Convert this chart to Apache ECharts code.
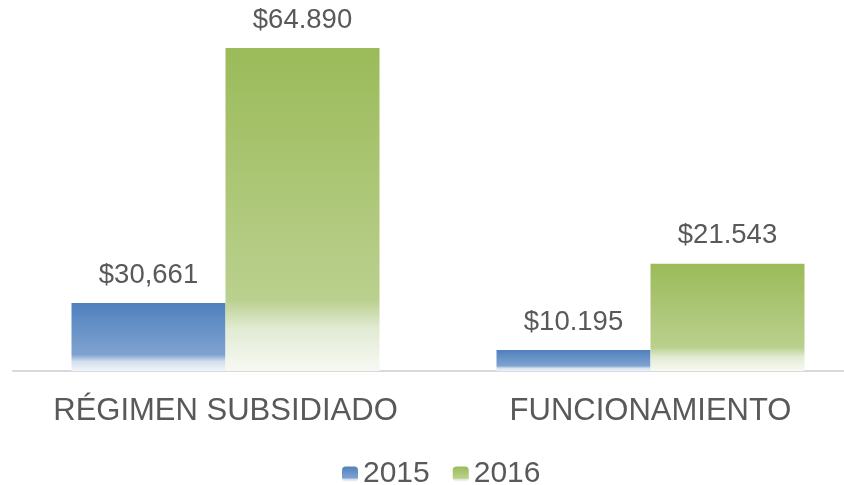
<!DOCTYPE html>
<html>
<head>
<meta charset="utf-8">
<script src="https://cdn.jsdelivr.net/npm/echarts@6/dist/echarts.min.js"></script>
<style>
  html, body { margin: 0; padding: 0; background: #fff; }
  #main { width: 844px; height: 485px; }
</style>
</head>
<body>
<div id="main"></div>
<script>
// datos
var categories = ["RÉGIMEN SUBSIDIADO", "FUNCIONAMIENTO"];
var seriesNames = ["2015", "2016"];
// alturas de barra (2015 no esta a la misma escala que su etiqueta en el original)
var values2015 = [13660, 4220];
var values2016 = [64890, 21543];
var labels2015 = ["$30,661", "$10.195"];
var labels2016 = ["$64.890", "$21.543"];

var textColor = "#595959";

function grad(stops) {
  return new echarts.graphic.LinearGradient(0, 0, 0, 1, stops);
}
var blueFill = grad([
  { offset: 0, color: "#4F81BD" },
  { offset: 0.76, color: "#7FA3D0" },
  { offset: 0.86, color: "#D3DFEE" },
  { offset: 1, color: "#F0F4FA" }
]);
var greenFill = grad([
  { offset: 0, color: "#9BBB59" },
  { offset: 0.78, color: "#BAD08E" },
  { offset: 0.87, color: "#E2EBD4" },
  { offset: 1, color: "#F7F9F3" }
]);

var chart = echarts.init(document.getElementById("main"));
var option = {
  backgroundColor: "#fff",
  animation: false,
  textStyle: { fontFamily: "Liberation Sans, Arial, sans-serif" },
  grid: { left: 13, width: 850, top: 48, height: 323, outerBoundsMode: "none", containLabel: false },
  legend: {
    top: 454,
    left: 337,
    itemWidth: 16,
    itemHeight: 15,
    itemGap: 23,
    textStyle: { fontSize: 30, color: textColor },
    data: seriesNames
  },
  xAxis: {
    type: "category",
    data: categories,
    axisLine: { lineStyle: { color: "#D9D9D9", width: 2 } },
    axisTick: { show: false },
    axisLabel: { fontSize: 31, color: textColor, margin: 25, interval: 0 }
  },
  yAxis: {
    type: "value",
    min: 0,
    max: 64890,
    show: false,
    splitLine: { show: false }
  },
  series: [
    {
      name: seriesNames[0],
      type: "bar",
      barWidth: 154,
      barGap: "0%",
      data: values2015,
      itemStyle: { color: blueFill },
      label: {
        show: true,
        position: "top",
        distance: 14,
        fontSize: 27.5,
        color: textColor,
        formatter: function (p) { return labels2015[p.dataIndex]; }
      }
    },
    {
      name: seriesNames[1],
      type: "bar",
      barWidth: 154,
      barGap: "0%",
      data: values2016,
      itemStyle: { color: greenFill },
      label: {
        show: true,
        position: "top",
        distance: 14,
        fontSize: 27.5,
        color: textColor,
        formatter: function (p) { return labels2016[p.dataIndex]; }
      }
    }
  ]
};
chart.setOption(option);
</script>
</body>
</html>
